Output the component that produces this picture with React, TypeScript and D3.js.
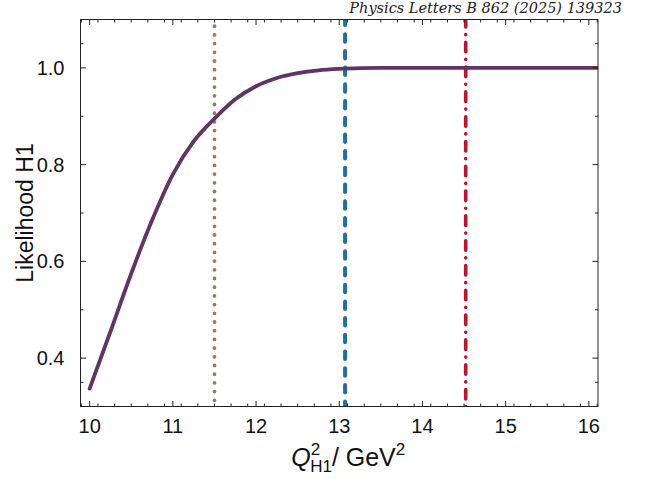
import { useMemo } from "react";
import * as d3 from "d3";

const WIDTH = 652;
const HEIGHT = 479;
const MARGIN = { top: 19.5, right: 54, bottom: 72.5, left: 80.5 };

// likelihood curve
const qValues = [10.0, 10.25, 10.5, 10.75, 11.0, 11.25, 11.5, 11.75, 12.0, 12.25, 12.5, 12.75, 13.0, 13.25, 13.5, 14.0, 15.0, 16.11];
const likelihood = [0.337, 0.455, 0.575, 0.685, 0.78, 0.848, 0.895, 0.935, 0.962, 0.979, 0.989, 0.995, 0.998, 0.9995, 1.0, 1.0, 1.0, 1.0];

// vertical marker lines
const markerNames = ["grey", "blue", "red"];
const markerValues = [11.5, 13.07, 14.52];

const xDomain = [9.89, 16.11];
const yDomain = [0.3, 1.1];
const xMajorTicks = [10, 11, 12, 13, 14, 15, 16];
const yMajorTicks = [0.4, 0.6, 0.8, 1.0];
const yTickLabels = ["0.4", "0.6", "0.8", "1.0"];

const CURVE_COLOR = "#613465";
const AXIS_COLOR = "#222";
const SANS = "'Liberation Sans', Arial, sans-serif";

export default function App() {
  const innerW = WIDTH - MARGIN.left - MARGIN.right;
  const innerH = HEIGHT - MARGIN.top - MARGIN.bottom;

  const x = useMemo(() => d3.scaleLinear().domain(xDomain).range([MARGIN.left, MARGIN.left + innerW]), [innerW]);
  const y = useMemo(() => d3.scaleLinear().domain(yDomain).range([MARGIN.top + innerH, MARGIN.top]), [innerH]);

  const linePath =
    d3
      .line<number>()
      .x((_, i) => x(qValues[i]))
      .y((v) => y(v))
      .curve(d3.curveMonotoneX)(likelihood) ?? "";

  const xMinor = d3.range(9.9, 16.11, 0.2).filter((t) => !xMajorTicks.some((m) => Math.abs(m - t) < 1e-6));
  const yMinor = [0.35, 0.5, 0.7, 0.9, 1.05];

  const top = MARGIN.top;
  const bottom = MARGIN.top + innerH;
  const left = MARGIN.left;
  const right = MARGIN.left + innerW;

  const markerStyle: Record<string, { stroke: string; width: number; dash: string }> = {
    grey: { stroke: "#8b7e70", width: 3.8, dash: "0 8.7" },
    blue: { stroke: "#1f6fa0", width: 4, dash: "7.5 9.2" },
    red: { stroke: "#c0122e", width: 3.6, dash: "9.5 7.6 0.1 7.6" },
  };

  return (
    <div style={{ position: "absolute", left: 0, top: 0 }}>
      <svg width={WIDTH} height={HEIGHT} viewBox={`0 0 ${WIDTH} ${HEIGHT}`} style={{ display: "block", background: "#fff" }}>
        <defs>
          <clipPath id="plotClip">
            <rect x={left} y={top} width={innerW} height={innerH} />
          </clipPath>
        </defs>

        <g clipPath="url(#plotClip)">
          {markerNames.map((name, i) => {
            const s = markerStyle[name];
            return (
              <line
                key={name}
                x1={x(markerValues[i])}
                x2={x(markerValues[i])}
                y1={top - 2}
                y2={bottom + 2}
                stroke={s.stroke}
                strokeWidth={s.width}
                strokeDasharray={s.dash}
                strokeLinecap="round"
              />
            );
          })}
          <path d={linePath} fill="none" stroke={CURVE_COLOR} strokeWidth={3.8} strokeLinecap="round" />
        </g>

        {/* frame */}
        <rect x={left} y={top} width={innerW} height={innerH} fill="none" stroke={AXIS_COLOR} strokeWidth={1} />

        {/* x ticks, bottom and top */}
        {xMajorTicks.map((t) => (
          <g key={`xm${t}`}>
            <line x1={x(t)} x2={x(t)} y1={bottom} y2={bottom - 5.5} stroke={AXIS_COLOR} />
            <line x1={x(t)} x2={x(t)} y1={top} y2={top + 5.5} stroke={AXIS_COLOR} />
            <text x={x(t)} y={bottom + 26} textAnchor="middle" fontFamily={SANS} fontSize={20} fill="#111">
              {t}
            </text>
          </g>
        ))}
        {xMinor.map((t) => (
          <g key={`xn${t.toFixed(2)}`}>
            <line x1={x(t)} x2={x(t)} y1={bottom} y2={bottom - 3} stroke={AXIS_COLOR} />
            <line x1={x(t)} x2={x(t)} y1={top} y2={top + 3} stroke={AXIS_COLOR} />
          </g>
        ))}

        {/* y ticks, left and right */}
        {yMajorTicks.map((t, i) => (
          <g key={`ym${t}`}>
            <line x1={left} x2={left + 5.5} y1={y(t)} y2={y(t)} stroke={AXIS_COLOR} />
            <line x1={right} x2={right - 5.5} y1={y(t)} y2={y(t)} stroke={AXIS_COLOR} />
            <text x={left - 16} y={y(t) + 7} textAnchor="end" fontFamily={SANS} fontSize={20} fill="#111">
              {yTickLabels[i]}
            </text>
          </g>
        ))}
        {yMinor.map((t) => (
          <g key={`yn${t}`}>
            <line x1={left} x2={left + 3} y1={y(t)} y2={y(t)} stroke={AXIS_COLOR} />
            <line x1={right} x2={right - 3} y1={y(t)} y2={y(t)} stroke={AXIS_COLOR} />
          </g>
        ))}

        {/* axis titles */}
        <text
          transform={`translate(33, ${(top + bottom) / 2}) rotate(-90)`}
          textAnchor="middle"
          fontFamily={SANS}
          fontSize={23}
          fill="#111"
        >
          Likelihood H1
        </text>
        <text x={(left + right) / 2 + 9} y={466} textAnchor="middle" fontFamily={SANS} fontSize={25} fill="#111">
          <tspan fontStyle="italic">Q</tspan>
          <tspan fontSize={17} dy={-11}>2</tspan>
          <tspan fontSize={17} dx={-10} dy={17}>H1</tspan>
          <tspan dy={-6}>/ GeV</tspan>
          <tspan fontSize={17} dy={-11}>2</tspan>
        </text>

        {/* journal header */}
        <text
          x={622}
          y={13}
          textAnchor="end"
          fontFamily="'DejaVu Serif', 'Liberation Serif', serif"
          fontStyle="italic"
          fontSize={14.5}
          fill="#222"
        >
          Physics Letters B 862 (2025) 139323
        </text>
      </svg>
    </div>
  );
}
